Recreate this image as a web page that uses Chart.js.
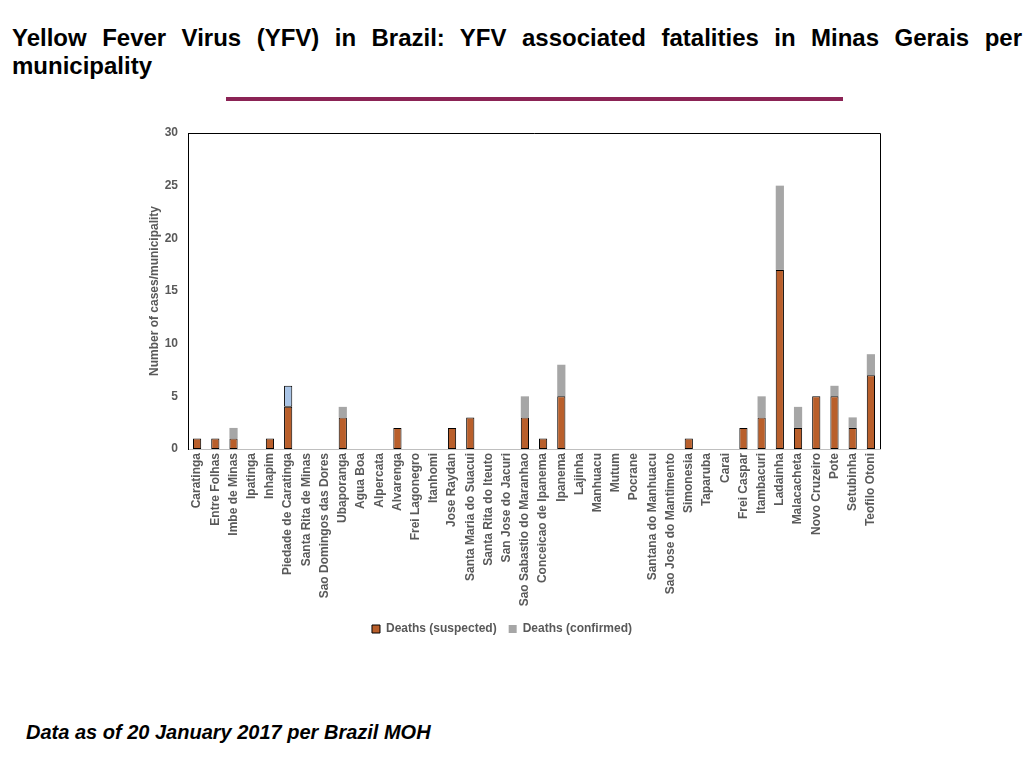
<!DOCTYPE html>
<html>
<head>
<meta charset="utf-8">
<script src="https://cdn.jsdelivr.net/npm/chart.js@4"></script>
<style>
  body { margin: 0; width: 1024px; height: 768px; position: relative; background: #fff;
         font-family: "Liberation Sans", Arial, sans-serif; overflow: hidden; }
  #title { position: absolute; left: 12px; top: 24px; width: 1010px; font-size: 24px; font-weight: bold;
           line-height: 28px; text-align: justify; text-align-last: left; color: #000; }
  #rule { position: absolute; left: 226px; top: 97px; width: 617px; height: 4px; background: #8b2355; }
  #wrap { position: absolute; left: 124px; top: 120px; width: 780px; height: 530px; }
  #note { position: absolute; left: 26px; top: 721px; font-size: 20px; font-weight: bold; font-style: italic;
          line-height: 22px; color: #000; }
</style>
</head>
<body>
<div id="title">Yellow Fever Virus (YFV) in Brazil: YFV associated fatalities in Minas Gerais per municipality</div>
<div id="rule"></div>
<div id="wrap"><canvas id="yfvChart"></canvas></div>
<div id="note">Data as of 20 January 2017 per Brazil MOH</div>
<script>
const municipalities = [
  "Caratinga", "Entre Folhas", "Imbe de Minas", "Ipatinga", "Inhapim", "Piedade de Caratinga",
  "Santa Rita de Minas", "Sao Domingos das Dores", "Ubaporanga", "Agua Boa", "Alpercata", "Alvarenga",
  "Frei Lagonegro", "Itanhomi", "Jose Raydan", "Santa Maria do Suacui", "Santa Rita do Iteuto",
  "San Jose do Jacuri", "Sao Sabastio do Maranhao", "Conceicao de Ipanema", "Ipanema", "Lajinha",
  "Manhuacu", "Mutum", "Pocrane", "Santana do Manhuacu", "Sao Jose do Mantimento", "Simonesia",
  "Taparuba", "Carai", "Frei Caspar", "Itambacuri", "Ladainha", "Malacacheta", "Novo Cruzeiro",
  "Pote", "Setubinha", "Teofilo Otoni"
];

const deathsSuspected = [1, 1, 1, 0, 1, 4, 0, 0, 3, 0, 0, 2, 0, 0, 2, 3, 0, 0, 3, 1, 5, 0, 0, 0, 0, 0, 0, 1, 0, 0, 2, 3, 17, 2, 5, 5, 2, 7];
const deathsConfirmed = [0, 0, 1, 0, 0, 0, 0, 0, 1, 0, 0, 0, 0, 0, 0, 0, 0, 0, 2, 0, 3, 0, 0, 0, 0, 0, 0, 0, 0, 0, 0, 2, 8, 2, 0, 1, 1, 2];
// the one light blue segment on Piedade de Caratinga (not in the legend)
const deathsOther = [0, 0, 0, 0, 0, 2, 0, 0, 0, 0, 0, 0, 0, 0, 0, 0, 0, 0, 0, 0, 0, 0, 0, 0, 0, 0, 0, 0, 0, 0, 0, 0, 0, 0, 0, 0, 0, 0];

const yTicks = [0, 5, 10, 15, 20, 25, 30];

const FONT = "'Liberation Sans', Arial, sans-serif";
const GREY_TEXT = "#595959";

// top and right edges of the plot frame
const frame = {
  id: "frame",
  afterDatasetsDraw(chart) {
    const { ctx, chartArea: a } = chart;
    ctx.save();
    ctx.strokeStyle = "#000";
    ctx.lineWidth = 1;
    ctx.beginPath();
    ctx.moveTo(a.left, a.top + 0.5);
    ctx.lineTo(a.right + 0.5, a.top + 0.5);
    ctx.lineTo(a.right + 0.5, a.bottom);
    ctx.stroke();
    ctx.restore();
  }
};

new Chart(document.getElementById("yfvChart"), {
  type: "bar",
  data: {
    labels: municipalities,
    datasets: [
      {
        label: "Deaths (suspected)",
        data: deathsSuspected,
        backgroundColor: "#b95f2b",
        borderColor: "#000",
        borderWidth: 1,
        borderSkipped: false,
      },
      {
        label: "Deaths (confirmed)",
        data: deathsConfirmed,
        backgroundColor: "#a6a6a6",
        borderWidth: 0,
      },
      {
        label: "Other",
        data: deathsOther,
        backgroundColor: "#a9c4e6",
        borderColor: "#000",
        borderWidth: 1,
        borderSkipped: false,
      },
    ],
  },
  options: {
    responsive: true,
    maintainAspectRatio: false,
    animation: false,
    datasets: { bar: { barPercentage: 0.5, categoryPercentage: 0.9 } },
    layout: { padding: { left: 0, right: 24, top: 13, bottom: 5 } },
    scales: {
      x: {
        stacked: true,
        grid: { display: false, drawTicks: false, tickLength: 0 },
        border: { color: "#bfbfbf", width: 1 },
        ticks: {
          autoSkip: false,
          minRotation: 90,
          maxRotation: 90,
          padding: 4,
          color: GREY_TEXT,
          font: { family: FONT, size: 12, weight: "bold" },
        },
        afterFit(scale) { scale.height = 162; },
      },
      y: {
        stacked: true,
        min: 0,
        max: 30,
        afterBuildTicks(scale) { scale.ticks = yTicks.map((v) => ({ value: v })); },
        grid: { display: false, drawTicks: false, tickLength: 0 },
        border: { color: "#000", width: 1 },
        ticks: {
          padding: 10,
          color: GREY_TEXT,
          font: { family: FONT, size: 12, weight: "bold" },
        },
        title: {
          display: true,
          text: "Number of cases/municipality",
          color: GREY_TEXT,
          font: { family: FONT, size: 12, weight: "bold" },
          padding: { top: 23, bottom: 0 },
        },
        afterFit(scale) {
          scale.width = 64;
          scale.paddingTop = 0;
          scale.paddingBottom = 0;
        },
      },
    },
    plugins: {
      legend: {
        position: "bottom",
        labels: {
          boxWidth: 8,
          boxHeight: 8,
          padding: 12,
          color: GREY_TEXT,
          font: { family: FONT, size: 12, weight: "bold" },
          filter: (item) => item.datasetIndex < 2,
        },
      },
      tooltip: { enabled: false },
    },
  },
  plugins: [frame],
});
</script>
</body>
</html>
